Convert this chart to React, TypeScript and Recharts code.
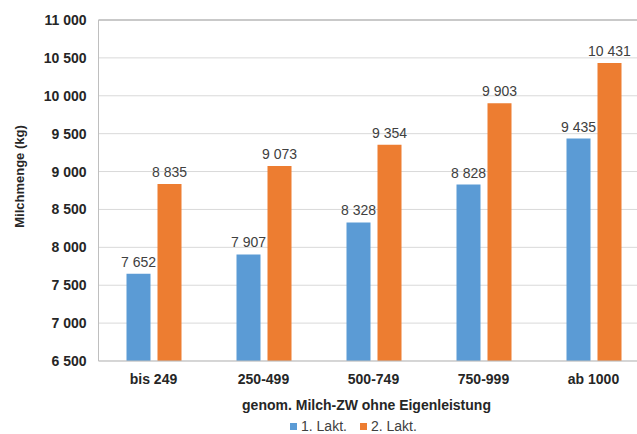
import { BarChart, Bar, XAxis, YAxis, CartesianGrid, Legend, LabelList, Label, ReferenceLine } from 'recharts';

const categories = ['bis 249', '250-499', '500-749', '750-999', 'ab 1000'];
const lakt1 = [7652, 7907, 8328, 8828, 9435];
const lakt2 = [8835, 9073, 9354, 9903, 10431];
const yTicks = [6500, 7000, 7500, 8000, 8500, 9000, 9500, 10000, 10500, 11000];

const seriesNames = ['1. Lakt.', '2. Lakt.'];
const seriesColors = ['#5B9BD5', '#ED7D31'];

const data = categories.map((c, i) => ({ name: c, l1: lakt1[i], l2: lakt2[i] }));

const FONT = '"Liberation Sans", Arial, sans-serif';

// thousands separated by a non-breaking space so the label text never wraps
const fmt = (v: number | string) => String(v).replace(/\B(?=(\d{3})+(?!\d))/g, '\u00a0');

function LegendContent() {
  return (
    <div style={{ display: 'flex', alignItems: 'center', height: 16, paddingLeft: 290, paddingTop: 2, fontFamily: FONT, fontSize: 14, color: '#404040' }}>
      {seriesNames.map((n, i) => (
        <div key={n} style={{ display: 'flex', alignItems: 'center', marginRight: 13 }}>
          <span style={{ width: 7, height: 7, background: seriesColors[i], marginRight: 4, display: 'inline-block' }} />
          <span>{n}</span>
        </div>
      ))}
    </div>
  );
}

export default function App() {
  return (
    <div style={{ position: 'absolute', left: 0, top: 0, width: 637, height: 434, overflow: 'hidden', background: '#fff' }}>
      <BarChart
        width={650}
        height={434}
        data={data}
        margin={{ top: 20, right: 1.5, left: 0, bottom: 0 }}
        barSize={24}
        barGap={7}
      >
        <CartesianGrid vertical={false} stroke="#d9d9d9" />
        <XAxis
          dataKey="name"
          height={55}
          tickLine={false}
          tickSize={0}
          tickMargin={13}
          axisLine={{ stroke: '#bfbfbf' }}
          tick={{ fill: '#262626', fontSize: 14, fontWeight: 700, fontFamily: FONT }}
        >
          <Label
            content={({ viewBox }: any) => (
              <text
                x={viewBox.x + viewBox.width / 2 - 7}
                y={viewBox.y + 49}
                textAnchor="middle"
                fill="#262626"
                fontSize={14}
                fontWeight={700}
                fontFamily={FONT}
              >
                genom. Milch-ZW ohne Eigenleistung
              </text>
            )}
          />
        </XAxis>
        <YAxis
          width={98.5}
          domain={[6500, 11000]}
          ticks={yTicks}
          tickFormatter={fmt}
          tickLine={false}
          tickSize={0}
          tickMargin={12}
          axisLine={{ stroke: '#bfbfbf' }}
          tick={{ fill: '#262626', fontSize: 14, fontWeight: 700, fontFamily: FONT }}
        >
          <Label
            content={() => (
              <text
                x={19.5}
                y={176.5}
                transform="rotate(-90 19.5 176.5)"
                textAnchor="middle"
                dominantBaseline="central"
                fill="#262626"
                fontSize={13}
                fontWeight={700}
                fontFamily={FONT}
              >
                Milchmenge (kg)
              </text>
            )}
          />
        </YAxis>
        <ReferenceLine y={11000} stroke="#a6a6a6" />
        <Legend verticalAlign="bottom" content={<LegendContent />} />
        <Bar dataKey="l1" name={seriesNames[0]} fill={seriesColors[0]} isAnimationActive={false}>
          <LabelList dataKey="l1" position="top" offset={7} formatter={fmt} fill="#404040" fontSize={14} fontFamily={FONT} />
        </Bar>
        <Bar dataKey="l2" name={seriesNames[1]} fill={seriesColors[1]} isAnimationActive={false}>
          <LabelList dataKey="l2" position="top" offset={7} formatter={fmt} fill="#404040" fontSize={14} fontFamily={FONT} />
        </Bar>
      </BarChart>
    </div>
  );
}
